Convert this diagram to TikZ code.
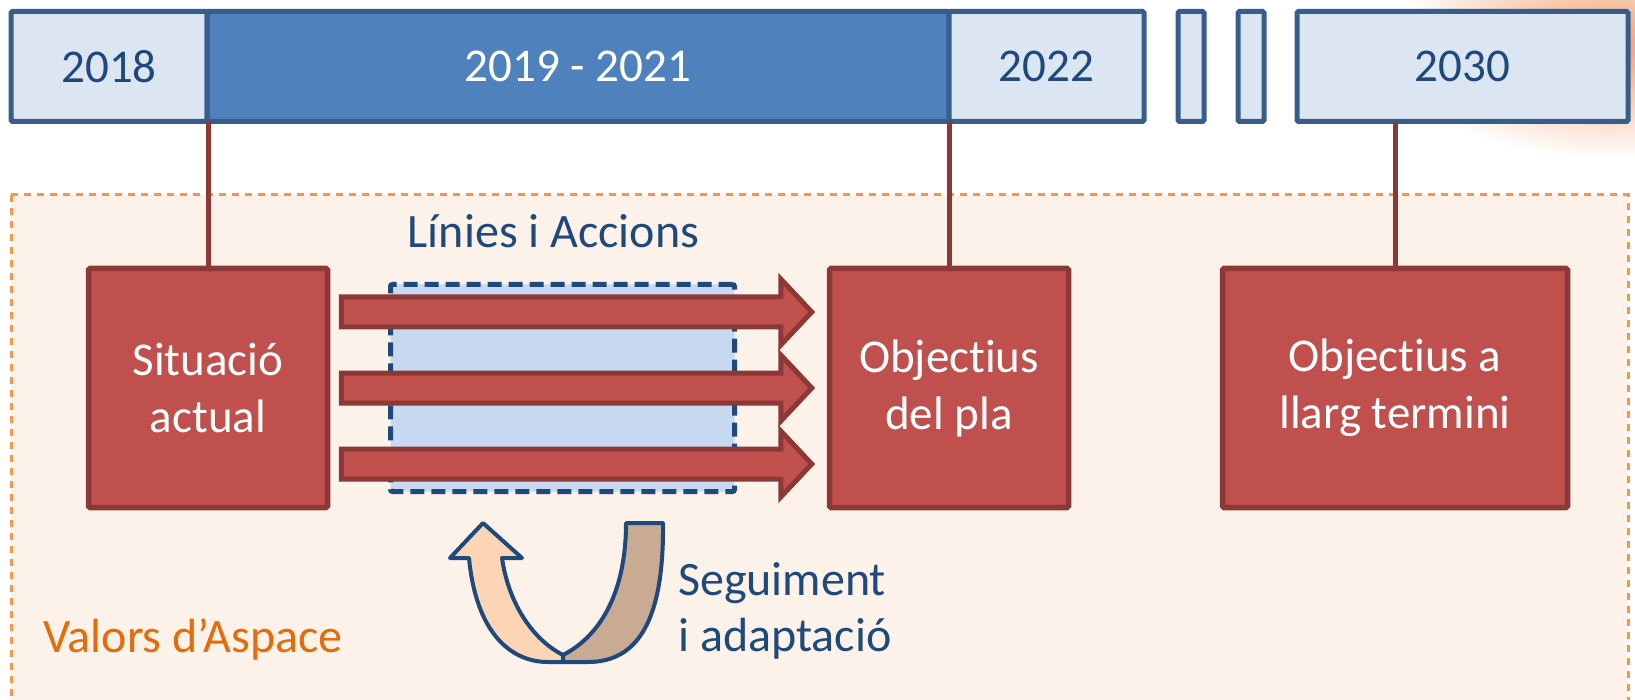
\documentclass[tikz,border=0pt]{standalone}
\usepackage{fontspec}
\setmainfont{Carlito}[Ligatures=NoCommon]
\usetikzlibrary{positioning,calc}
\definecolor{barline}{HTML}{385D8A}
\definecolor{barlight}{HTML}{DCE6F2}
\definecolor{barmid}{HTML}{4F81BD}
\definecolor{txtblue}{HTML}{1F497D}
\definecolor{redfill}{HTML}{C0504D}
\definecolor{redline}{HTML}{8C3836}
\definecolor{bgfill}{HTML}{FDF2E9}
\definecolor{bgline}{HTML}{F79646}
\definecolor{liafill}{HTML}{C6D9F1}
\definecolor{peach}{HTML}{FCD5B5}
\definecolor{tan}{HTML}{C9AA92}
\definecolor{valtext}{HTML}{E46C0A}
\definecolor{blob}{HTML}{F0A070}
\tikzset{
	yearbox/.style={draw=barline,line width=5pt,fill=barlight,text=txtblue,minimum height=110pt,inner sep=0pt,outer sep=0pt,rounded corners=1.5pt,font=\fontsize{47}{56}\selectfont},
	goalbox/.style={draw=redline,line width=5.5pt,fill=redfill,text=white,minimum width=239pt,minimum height=239pt,align=center,rounded corners=1.5pt,font=\fontsize{47}{57}\selectfont},
	yearline/.style={draw=redline,line width=5pt},
	liabox/.style={draw=txtblue,fill=liafill,line width=5pt,dash pattern=on 14pt off 7pt,rounded corners=2pt,minimum width=344pt,minimum height=207pt},
	redarrow/.style={draw=redline,fill=redfill,line width=5pt},
	turn/.style={draw=txtblue,line width=4pt,line join=round},
	bluetext/.style={text=txtblue,inner sep=0pt,font=\fontsize{48}{56}\selectfont}
}
\begin{document}
\begin{tikzpicture}[x=1pt,y=-1pt]
		\clip (0,0) rectangle (1635,700);
		\shade[inner color=blob,outer color=white] (1610,45) ellipse (220 and 115);
		\draw[bgline,fill=bgfill,line width=3pt,dash pattern=on 7pt off 6pt] (11,195) rectangle (1628,720);
		\node[yearbox,minimum width=196pt] (y18) at (109,66.5) {2018};
		\node[yearbox,fill=barmid,text=white,minimum width=742pt,right=0pt of y18] (y19) {2019 - 2021};
		\node[yearbox,minimum width=195pt,right=0pt of y19] (y22) {2022};
		\node[yearbox,minimum width=26pt,right=34pt of y22] (dots1) {};
		\node[yearbox,minimum width=26pt,right=34pt of dots1] (dots2) {};
		\node[yearbox,minimum width=331pt,right=33pt of dots2] (y30) {2030};
		\node[goalbox] (sit) at (208,388) {Situació\\actual};
		\node[goalbox] (obj) at (949,388) {Objectius\\del pla};
		\node[goalbox,minimum width=345pt] (llarg) at (1395,388) {Objectius a\\llarg termini};
		\draw[yearline] (sit.north) -- (sit.north |- y18.south);
		\draw[yearline] (obj.north) -- (obj.north |- y19.south);
		\draw[yearline] (llarg.north) -- (llarg.north |- y30.south);
		\node[liabox] (lia) at (562.5,388) {};
		\node[bluetext,anchor=base] (lialabel) at ($(lia.north)+(-9,-34)$) {Línies i Accions};
		\foreach \d in {-76,0,76}
		\draw[redarrow] ($(sit.east)+(11,\d-15)$) -- ($(obj.west)+(-46,\d-15)$) -- ($(obj.west)+(-46,\d-33)$)
		-- ($(obj.west)+(-15,\d)$) -- ($(obj.west)+(-46,\d+33)$) -- ($(obj.west)+(-46,\d+15)$) -- ($(sit.east)+(11,\d+15)$) -- cycle;
		\draw[turn,fill=peach] (469,558) .. controls (476,632) and (510,662) .. (548,662) -- (563,662) -- (563,655)
		.. controls (530,638) and (508,600) .. (502,558) -- (522,558) -- (483,523) -- (450,558) -- cycle;
		\draw[turn,fill=tan] (563,655) .. controls (602,635) and (626,590) .. (626,523) -- (663,523)
		.. controls (664,620) and (638,662) .. (588,662) -- (563,662) -- cycle;
		\node[bluetext,anchor=west,align=left] (seg) at (678,611) {Seguiment\\i adaptació};
		\node[bluetext,text=valtext,anchor=base west] (valors) at (43,652) {Valors d’Aspace};
	\end{tikzpicture}
\end{document}
